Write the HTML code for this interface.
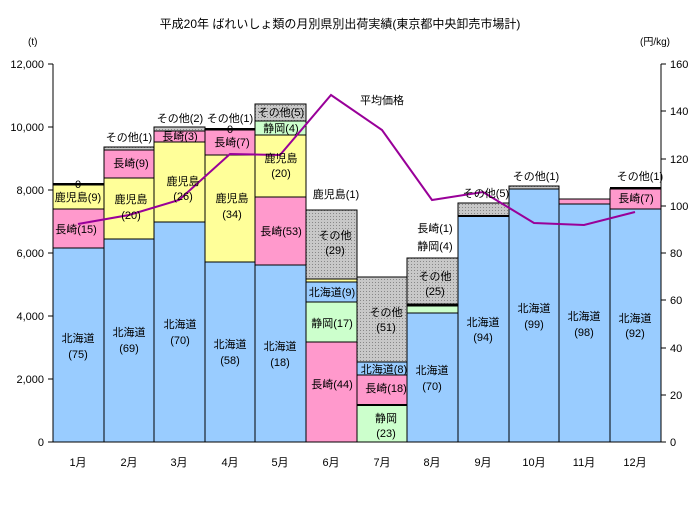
<!DOCTYPE html>
<html><head><meta charset="utf-8"><style>
body{margin:0;background:#fff}
svg{display:block;font-family:"Liberation Sans","Noto Sans CJK JP",sans-serif}
text{font-size:11px;fill:#000}
</style></head><body>
<svg width="700" height="512" viewBox="0 0 700 512">
<defs><pattern id="dot" width="3" height="3" patternUnits="userSpaceOnUse"><rect width="3" height="3" fill="#c8c8c8"/><rect width="1" height="1" fill="#888"/></pattern></defs>
<text x="340" y="28" text-anchor="middle" style="font-size:12px">平成20年 ばれいしょ類の月別県別出荷実績(東京都中央卸売市場計)</text>
<text x="28" y="45" style="font-size:10px">(t)</text>
<text x="640" y="45" style="font-size:10px">(円/kg)</text>
<g stroke="#000" stroke-width="1">
<!-- 1 -->
<rect x="53" y="248" width="51" height="194" fill="#99ccff"/>
<rect x="53" y="209" width="51" height="39" fill="#ff99cc"/>
<rect x="53" y="185" width="51" height="24" fill="#ffff99"/>
<line x1="53" y1="184" x2="104" y2="184" stroke-width="2"/>
<!-- 2 -->
<rect x="104" y="239" width="50" height="203" fill="#99ccff"/>
<rect x="104" y="178" width="50" height="61" fill="#ffff99"/>
<rect x="104" y="150" width="50" height="28" fill="#ff99cc"/>
<rect x="104" y="147" width="50" height="3" fill="url(#dot)"/>
<!-- 3 -->
<rect x="154" y="222" width="51" height="220" fill="#99ccff"/>
<rect x="154" y="142" width="51" height="80" fill="#ffff99"/>
<rect x="154" y="131" width="51" height="11" fill="#ff99cc"/>
<rect x="154" y="127" width="51" height="4" fill="url(#dot)"/>
<!-- 4 -->
<rect x="205" y="262" width="50" height="180" fill="#99ccff"/>
<rect x="205" y="155" width="50" height="107" fill="#ffff99"/>
<rect x="205" y="130" width="50" height="25" fill="#ff99cc"/>
<line x1="205" y1="129" x2="255" y2="129" stroke-width="2"/>
<!-- 5 -->
<rect x="255" y="265" width="51" height="177" fill="#99ccff"/>
<rect x="255" y="197" width="51" height="68" fill="#ff99cc"/>
<rect x="255" y="135" width="51" height="62" fill="#ffff99"/>
<rect x="255" y="121" width="51" height="14" fill="#ccffcc"/>
<rect x="255" y="104" width="51" height="17" fill="url(#dot)"/>
<!-- 6 -->
<rect x="306" y="342" width="51" height="100" fill="#ff99cc"/>
<rect x="306" y="302" width="51" height="40" fill="#ccffcc"/>
<rect x="306" y="282" width="51" height="20" fill="#99ccff"/>
<rect x="306" y="279" width="51" height="3" fill="#ffff99"/>
<rect x="306" y="210" width="51" height="69" fill="url(#dot)"/>
<!-- 7 -->
<rect x="357" y="405" width="50" height="37" fill="#ccffcc"/>
<rect x="357" y="375" width="50" height="30" fill="#ff99cc"/>
<rect x="357" y="362" width="50" height="13" fill="#99ccff"/>
<rect x="357" y="277" width="50" height="85" fill="url(#dot)"/>
<line x1="357" y1="405" x2="407" y2="405" stroke-width="2"/>
<!-- 8 -->
<rect x="407" y="313" width="51" height="129" fill="#99ccff"/>
<rect x="407" y="306" width="51" height="7" fill="#ccffcc"/>
<rect x="407" y="258" width="51" height="46" fill="url(#dot)"/>
<line x1="407" y1="305" x2="458" y2="305" stroke-width="3"/>
<!-- 9 -->
<rect x="458" y="216" width="51" height="226" fill="#99ccff"/>
<rect x="458" y="203" width="51" height="13" fill="url(#dot)"/>
<line x1="458" y1="216" x2="509" y2="216" stroke-width="2"/>
<!-- 10 -->
<rect x="509" y="189" width="50" height="253" fill="#99ccff"/>
<rect x="509" y="186" width="50" height="3" fill="url(#dot)"/>
<!-- 11 -->
<rect x="559" y="204" width="51" height="238" fill="#99ccff"/>
<rect x="559" y="199" width="51" height="5" fill="#ff99cc"/>
<!-- 12 -->
<rect x="610" y="209" width="51" height="233" fill="#99ccff"/>
<rect x="610" y="189" width="51" height="20" fill="#ff99cc"/>
<line x1="610" y1="188" x2="661" y2="188" stroke-width="2"/>
</g>
<!-- axes -->
<g stroke="#000" stroke-width="1">
<line x1="53" y1="64" x2="53" y2="442"/>
<line x1="661" y1="64" x2="661" y2="442"/>
<line x1="53" y1="442" x2="661" y2="442"/>
<line x1="48" y1="64" x2="53" y2="64"/><line x1="48" y1="127" x2="53" y2="127"/><line x1="48" y1="190" x2="53" y2="190"/><line x1="48" y1="253" x2="53" y2="253"/><line x1="48" y1="316" x2="53" y2="316"/><line x1="48" y1="379" x2="53" y2="379"/><line x1="48" y1="442" x2="53" y2="442"/>
<line x1="661" y1="64" x2="666" y2="64"/><line x1="661" y1="111" x2="666" y2="111"/><line x1="661" y1="159" x2="666" y2="159"/><line x1="661" y1="206" x2="666" y2="206"/><line x1="661" y1="253" x2="666" y2="253"/><line x1="661" y1="300" x2="666" y2="300"/><line x1="661" y1="348" x2="666" y2="348"/><line x1="661" y1="395" x2="666" y2="395"/><line x1="661" y1="442" x2="666" y2="442"/>
</g>
<g text-anchor="end" style="font-size:10px">
<text x="44" y="68">12,000</text><text x="44" y="131">10,000</text><text x="44" y="194">8,000</text><text x="44" y="257">6,000</text><text x="44" y="320">4,000</text><text x="44" y="383">2,000</text><text x="44" y="446">0</text>
</g>
<g style="font-size:10px">
<text x="670" y="68">160</text><text x="670" y="115">140</text><text x="670" y="163">120</text><text x="670" y="210">100</text><text x="670" y="257">80</text><text x="670" y="304">60</text><text x="670" y="352">40</text><text x="670" y="399">20</text><text x="670" y="446">0</text>
</g>
<g text-anchor="middle">
<text x="78" y="466">1月</text><text x="129" y="466">2月</text><text x="179" y="466">3月</text><text x="230" y="466">4月</text><text x="280" y="466">5月</text><text x="331" y="466">6月</text><text x="382" y="466">7月</text><text x="432" y="466">8月</text><text x="483" y="466">9月</text><text x="534" y="466">10月</text><text x="584" y="466">11月</text><text x="635" y="466">12月</text>
</g>
<polyline points="78,224 129,215 179,200 230,154 280,155 331,95 382,130 432,200 483,192 534,223 584,225 635,212" fill="none" stroke="#990099" stroke-width="2"/>
<text x="360" y="104">平均価格</text>
<g text-anchor="middle">
<text x="78" y="188">0</text><text x="78" y="201">鹿児島(9)</text><text x="76" y="233">長崎(15)</text>
<text x="78" y="342">北海道</text><text x="78" y="358">(75)</text>
<text x="129" y="141">その他(1)</text><text x="131" y="167">長崎(9)</text><text x="131" y="203">鹿児島</text><text x="131" y="219">(20)</text><text x="129" y="336">北海道</text><text x="129" y="352">(69)</text>
<text x="180" y="122">その他(2)</text><text x="180" y="140">長崎(3)</text><text x="183" y="185">鹿児島</text><text x="183" y="200">(26)</text><text x="180" y="328">北海道</text><text x="180" y="344">(70)</text>
<text x="230" y="122">その他(1)</text><text x="230" y="133">0</text><text x="232" y="146">長崎(7)</text><text x="232" y="202">鹿児島</text><text x="232" y="218">(34)</text><text x="230" y="348">北海道</text><text x="230" y="364">(58)</text>
<text x="281" y="116">その他(5)</text><text x="281" y="132">静岡(4)</text><text x="281" y="162">鹿児島</text><text x="281" y="177">(20)</text><text x="281" y="235">長崎(53)</text><text x="280" y="350">北海道</text><text x="280" y="366">(18)</text>
<text x="336" y="198">鹿児島(1)</text><text x="335" y="239">その他</text><text x="335" y="254">(29)</text><text x="332" y="296">北海道(9)</text><text x="332" y="327">静岡(17)</text><text x="332" y="388">長崎(44)</text>
<text x="386" y="316">その他</text><text x="386" y="331">(51)</text><text x="384" y="373">北海道(8)</text><text x="386" y="392">長崎(18)</text><text x="386" y="422">静岡</text><text x="386" y="437">(23)</text>
<text x="435" y="232">長崎(1)</text><text x="435" y="250">静岡(4)</text><text x="435" y="280">その他</text><text x="435" y="295">(25)</text><text x="432" y="374">北海道</text><text x="432" y="390">(70)</text>
<text x="486" y="197">その他(5)</text><text x="483" y="326">北海道</text><text x="483" y="341">(94)</text>
<text x="536" y="180">その他(1)</text><text x="534" y="312">北海道</text><text x="534" y="328">(99)</text>
<text x="584" y="320">北海道</text><text x="584" y="336">(98)</text>
<text x="640" y="180">その他(1)</text><text x="636" y="202">長崎(7)</text><text x="635" y="322">北海道</text><text x="635" y="337">(92)</text>
</g>
</svg>
</body></html>
